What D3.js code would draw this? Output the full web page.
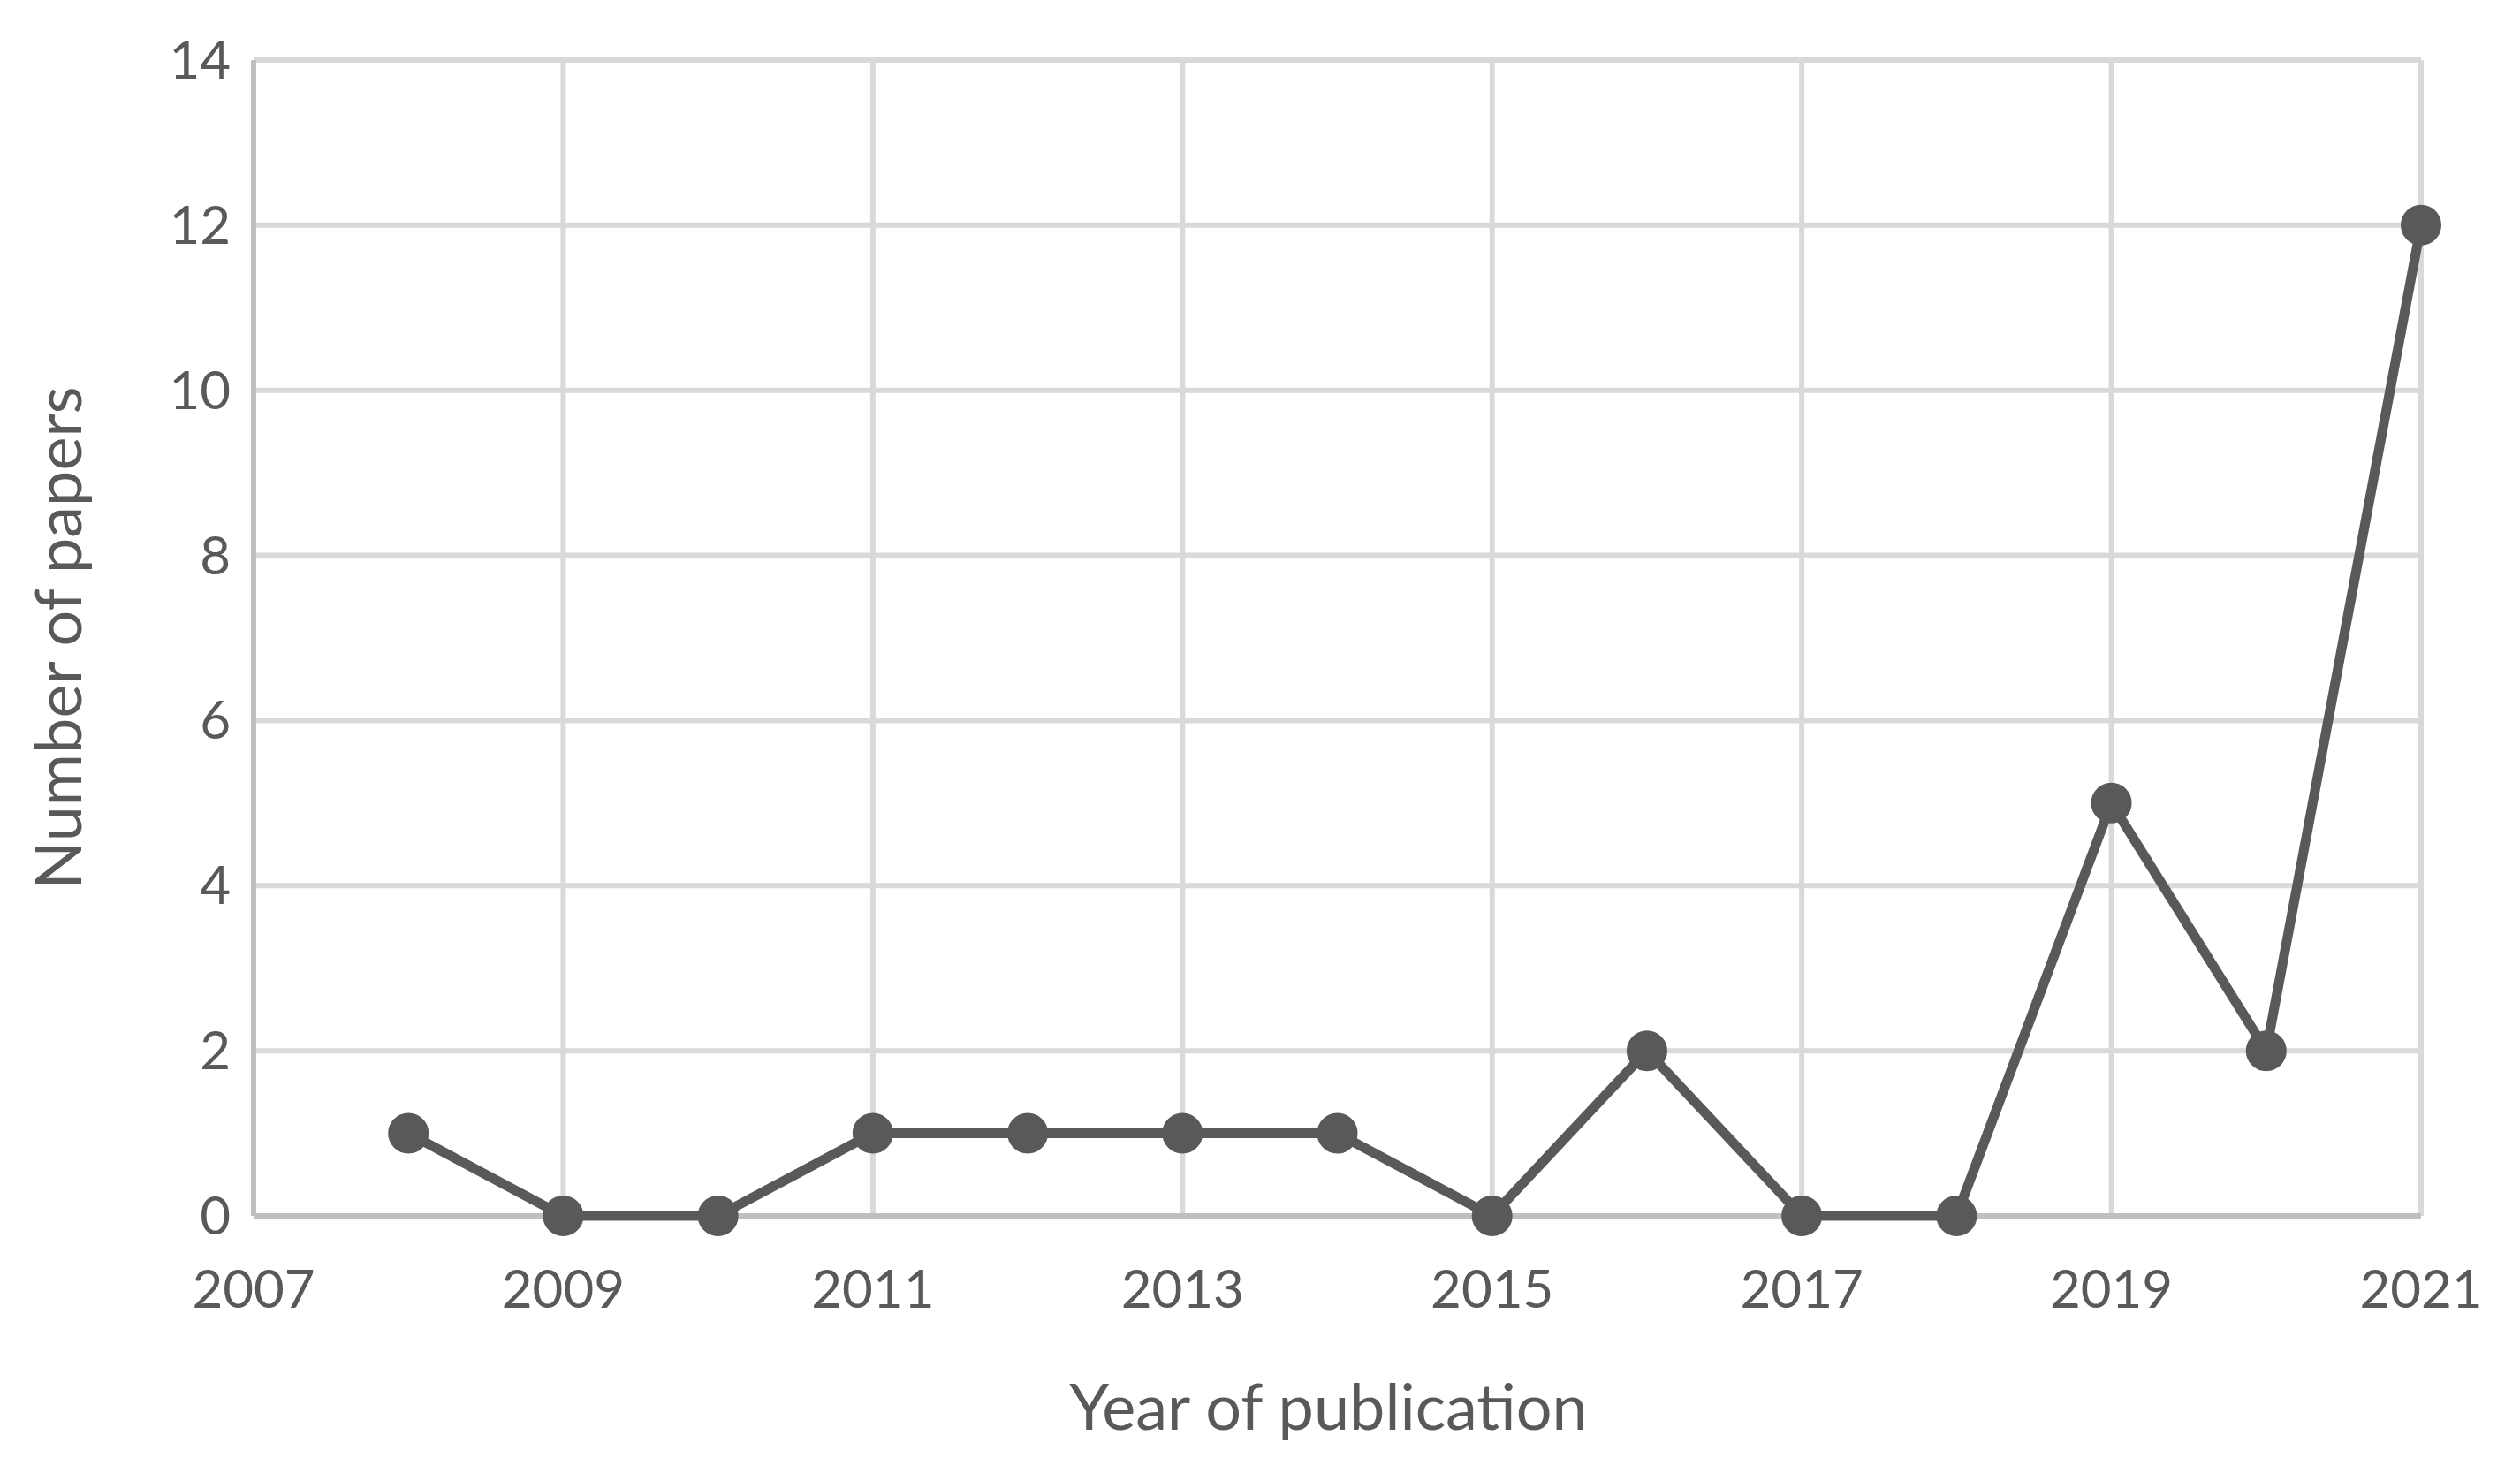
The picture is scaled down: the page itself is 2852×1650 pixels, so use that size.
<!DOCTYPE html>
<html><head><meta charset="utf-8">
<script src="https://cdn.jsdelivr.net/npm/d3@7"></script>
<style>body{margin:0;background:#fff}text{font-family:Lato,"Open Sans",sans-serif;fill:#595959}</style>
</head><body><div id="chart"></div>
<script>
const years = [2008,2009,2010,2011,2012,2013,2014,2015,2016,2017,2018,2019,2020,2021];
const papers = [1,0,0,1,1,1,1,0,2,0,0,5,2,12];
const xTicks = [2007,2009,2011,2013,2015,2017,2019,2021];
const yTicks = [0,2,4,6,8,10,12,14];

const W = 2852, H = 1650;
const m = {left: 287, right: 112, top: 68, bottom: 274};
const svg = d3.select('#chart').append('svg').attr('width', W).attr('height', H);
const x = d3.scaleLinear().domain([2007, 2021]).range([m.left, W - m.right]);
const y = d3.scaleLinear().domain([0, 14]).range([H - m.bottom, m.top]);

// grid
svg.append('g').selectAll('line').data(yTicks.slice(1)).join('line')
  .attr('x1', m.left).attr('x2', W - m.right).attr('y1', d => y(d)).attr('y2', d => y(d))
  .attr('stroke', '#d9d9d9').attr('stroke-width', 6);
svg.append('g').selectAll('line').data(xTicks.slice(1)).join('line')
  .attr('x1', d => x(d)).attr('x2', d => x(d)).attr('y1', m.top).attr('y2', y(0))
  .attr('stroke', '#d9d9d9').attr('stroke-width', 6);
// axes lines
svg.append('line').attr('x1', x(2007)).attr('x2', x(2007)).attr('y1', m.top).attr('y2', y(0))
  .attr('stroke', '#bfbfbf').attr('stroke-width', 6);
svg.append('line').attr('x1', m.left).attr('x2', W - m.right).attr('y1', y(0)).attr('y2', y(0))
  .attr('stroke', '#bfbfbf').attr('stroke-width', 6);

// tick labels
svg.append('g').selectAll('text').data(yTicks).join('text')
  .attr('x', m.left - 26).attr('y', d => y(d)).attr('dy', '0.35em')
  .attr('text-anchor', 'end').attr('font-size', 60).text(d => d);
svg.append('g').selectAll('text').data(xTicks).join('text')
  .attr('x', d => x(d)).attr('y', y(0) + 104)
  .attr('text-anchor', 'middle').attr('font-size', 60).text(d => d);

// titles
svg.append('text').attr('x', (m.left + W - m.right) / 2 - 10).attr('y', 1618)
  .attr('text-anchor', 'middle').attr('font-size', 72).text('Year of publication');
svg.append('text').attr('transform', `translate(92,${(m.top + y(0)) / 2}) rotate(-90)`)
  .attr('text-anchor', 'middle').attr('font-size', 72).text('Number of papers');

// series
const line = d3.line().x((d, i) => x(years[i])).y(d => y(d));
svg.append('path').datum(papers).attr('d', line).attr('fill', 'none')
  .attr('stroke', '#595959').attr('stroke-width', 11).attr('stroke-linejoin', 'round');
svg.append('g').selectAll('circle').data(papers).join('circle')
  .attr('cx', (d, i) => x(years[i])).attr('cy', d => y(d)).attr('r', 21)
  .attr('fill', '#595959').attr('stroke', '#595959').attr('stroke-width', 4);
</script></body></html>
